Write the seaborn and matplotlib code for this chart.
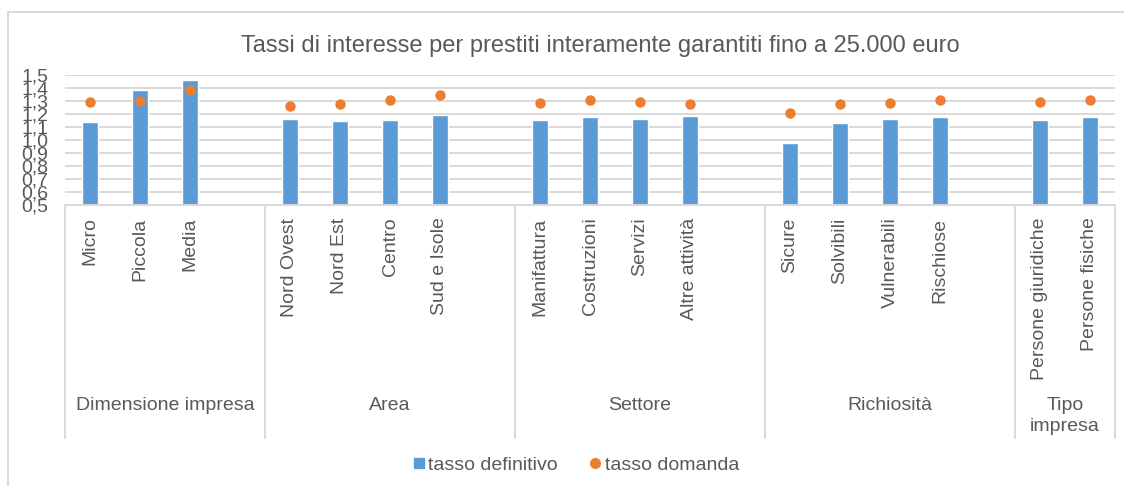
"""
Tassi di interesse per prestiti interamente garantiti fino a 25.000 euro.

Output:
    out.png
"""

from __future__ import annotations

import matplotlib

matplotlib.use("Agg")

import matplotlib.pyplot as plt
import pandas as pd
import seaborn as sns
from matplotlib.lines import Line2D
from matplotlib.ticker import FixedLocator, FuncFormatter


# slot labels per group (a blank slot closes every group, like the Excel sheet)
GROUPS = ["Dimensione impresa", "Area", "Settore", "Richiosità", "Tipo\nimpresa"]
GROUP_ITEMS = [
    ["Micro", "Piccola", "Media"],
    ["Nord Ovest", "Nord Est", "Centro", "Sud e Isole"],
    ["Manifattura", "Costruzioni", "Servizi", "Altre attività"],
    ["Sicure", "Solvibili", "Vulnerabili", "Rischiose"],
    ["Persone giuridiche", "Persone fisiche"],
]

CATEGORIES = [
    "Micro", "Piccola", "Media",
    "Nord Ovest", "Nord Est", "Centro", "Sud e Isole",
    "Manifattura", "Costruzioni", "Servizi", "Altre attività",
    "Sicure", "Solvibili", "Vulnerabili", "Rischiose",
    "Persone giuridiche", "Persone fisiche",
]
TASSO_DEFINITIVO = [
    1.14, 1.385, 1.46,
    1.165, 1.145, 1.15, 1.19,
    1.15, 1.175, 1.165, 1.185,
    0.975, 1.13, 1.16, 1.175,
    1.15, 1.175,
]
TASSO_DOMANDA = [
    1.29, 1.30, 1.385,
    1.265, 1.275, 1.305, 1.345,
    1.285, 1.305, 1.295, 1.28,
    1.205, 1.275, 1.285, 1.305,
    1.29, 1.305,
]

Y_TICKS = [0.5, 0.6, 0.7, 0.8, 0.9, 1.0, 1.1, 1.2, 1.3, 1.4, 1.5]

BLUE = "#5B9BD5"
ORANGE = "#ED7D31"
GRID = "#D9D9D9"
TEXT = "#595959"


def build_order() -> tuple[list[str], list[float]]:
    """Category order with one blank slot after each group but the last."""
    order = []
    bounds = [-0.5]
    for i, items in enumerate(GROUP_ITEMS):
        order.extend(items)
        if i < len(GROUP_ITEMS) - 1:
            order.append(" " * (i + 1))
        bounds.append(len(order) - 0.5)
    return order, bounds


def main() -> None:
    sns.set_theme(style="white")
    plt.rcParams["font.family"] = ["Liberation Sans", "DejaVu Sans"]

    df = pd.DataFrame(
        {
            "categoria": CATEGORIES,
            "tasso definitivo": TASSO_DEFINITIVO,
            "tasso domanda": TASSO_DOMANDA,
        }
    )
    order, bounds = build_order()

    fig = plt.figure(figsize=(11.24, 4.86), dpi=100)
    ax = fig.add_axes([65 / 1124, 1 - 205 / 486, 1050 / 1124, 130 / 486])

    sns.barplot(
        data=df,
        x="categoria",
        y="tasso definitivo",
        order=order,
        color=BLUE,
        saturation=1,
        width=0.32,
        errorbar=None,
        ax=ax,
        zorder=2,
    )
    sns.stripplot(
        data=df,
        x="categoria",
        y="tasso domanda",
        order=order,
        color=ORANGE,
        jitter=False,
        size=7.5,
        linewidth=0,
        ax=ax,
        zorder=3,
    )

    ax.set_ylim(0.5, 1.5)
    ax.set_xlim(-0.5, len(order) - 0.5)
    ax.yaxis.set_major_locator(FixedLocator(Y_TICKS))
    ax.yaxis.set_major_formatter(FuncFormatter(lambda v, _: f"{v:.1f}".replace(".", ",")))
    ax.yaxis.grid(True, color=GRID, linewidth=1.4, zorder=0)
    ax.set_axisbelow(True)
    for side in ["top", "right", "left"]:
        ax.spines[side].set_visible(False)
    ax.spines["bottom"].set_color(GRID)
    ax.spines["bottom"].set_linewidth(1.4)
    ax.tick_params(axis="y", length=0, pad=12, labelsize=14, labelcolor=TEXT)
    ax.tick_params(axis="x", length=0, pad=9, labelsize=14, labelcolor=TEXT)
    ax.set_xticks(range(len(order)))
    ax.set_xticklabels(order, rotation=90, va="top", ha="center")
    ax.set_xlabel("")
    ax.set_ylabel("")

    # multi-level axis: group separators and group names under the labels
    trans = ax.get_xaxis_transform()
    bottom = -(438 - 205) / 130
    for b in bounds:
        ax.plot([b, b], [0, bottom], color=GRID, linewidth=1.4, transform=trans, clip_on=False)
    for name, lo, hi in zip(GROUPS, bounds[:-1], bounds[1:]):
        y = -(416 - 205) / 130 if "\n" in name else -(405 - 205) / 130
        ax.text(
            (lo + hi) / 2, y, name, transform=trans, ha="center", va="center",
            fontsize=14, color=TEXT, linespacing=1.25,
        )

    fig.text(600 / 1124, 1 - 46 / 486, "Tassi di interesse per prestiti interamente garantiti fino a 25.000 euro",
             ha="center", va="center", fontsize=17, color=TEXT)

    handles = [
        Line2D([], [], marker="s", linestyle="", color=BLUE, markersize=7),
        Line2D([], [], marker="o", linestyle="", color=ORANGE, markersize=7),
    ]
    fig.legend(
        handles, ["tasso definitivo", "tasso domanda"], loc="center",
        bbox_to_anchor=(575 / 1124, 1 - 465 / 486), ncol=2, frameon=False,
        fontsize=14, labelcolor=TEXT, handletextpad=0.1, columnspacing=1.5,
        handlelength=0.8,
    )

    # chart frame (top and left edges visible in the crop)
    fx, fy = 8 / 1124, 1 - 12 / 486
    fig.add_artist(Line2D([fx, 1], [fy, fy], color=GRID, linewidth=1.4))
    fig.add_artist(Line2D([fx, fx], [0, fy], color=GRID, linewidth=1.4))

    fig.savefig("out.png", dpi=100)
    plt.close(fig)


if __name__ == "__main__":
    main()
